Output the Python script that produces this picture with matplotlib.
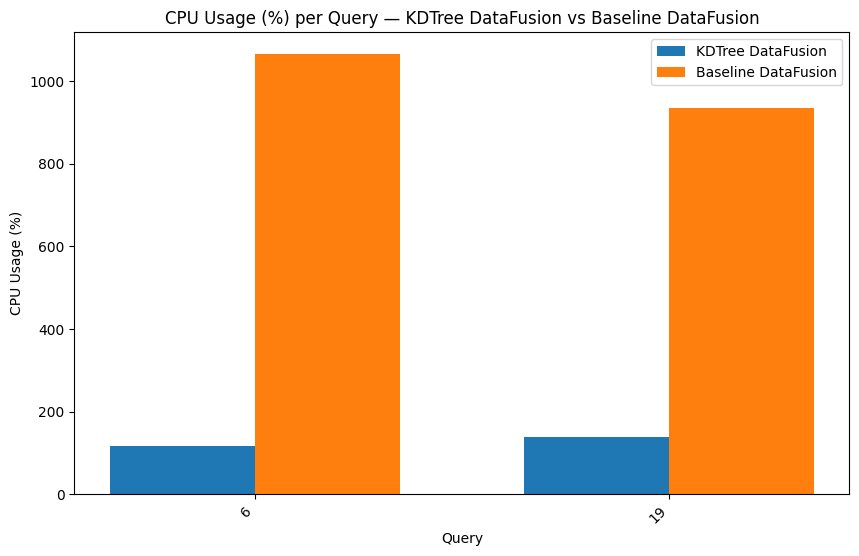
import numpy as np
import matplotlib.pyplot as plt

# CPU usage (%) per query
queries = ["6", "19"]
kdtree_cpu = [116, 138]
baseline_cpu = [1065, 936]


def main():
    x = np.arange(len(queries))
    width = 0.35

    fig, ax = plt.subplots(figsize=(10, 6))
    ax.bar(x - width / 2, kdtree_cpu, width, label="KDTree DataFusion")
    ax.bar(x + width / 2, baseline_cpu, width, label="Baseline DataFusion")

    ax.set_xticks(x)
    ax.set_xticklabels(queries, rotation=45, ha="right")
    ax.set_xlabel("Query")
    ax.set_ylabel("CPU Usage (%)")
    ax.set_title("CPU Usage (%) per Query \u2014 KDTree DataFusion vs Baseline DataFusion")
    ax.legend()

    plt.savefig("out.png", dpi=100, bbox_inches="tight")


if __name__ == "__main__":
    main()
